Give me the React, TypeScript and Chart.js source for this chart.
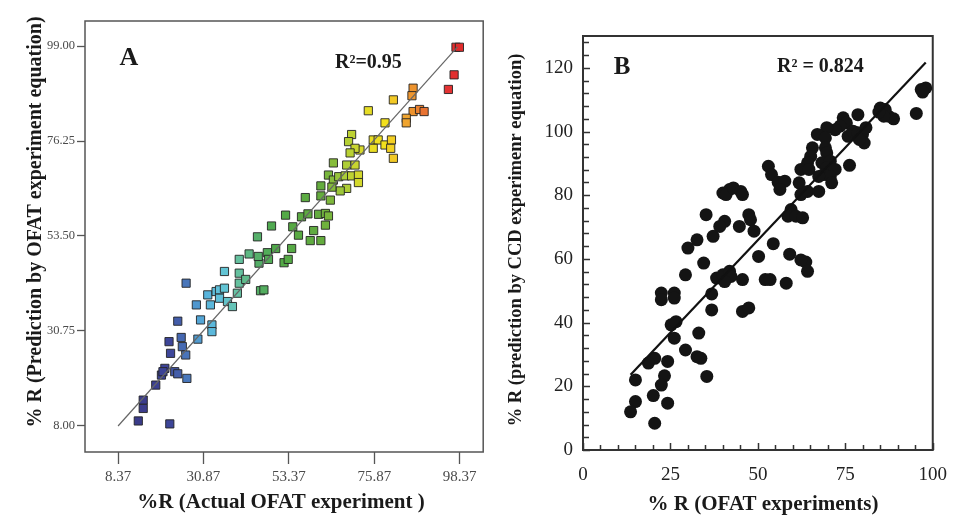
import React, { useEffect, useRef } from 'react';
import { Chart, registerables } from 'chart.js';
Chart.register(...registerables);

// ---------- Panel A data (actual vs predicted by OFAT equation) ----------
const A_ACTUAL = [97.4, 98.3, 96.9, 95.4, 86.1, 85.8, 80.9, 86.1, 87.8, 89.0, 84.3, 84.3, 74.3, 78.7, 75.6, 76.9, 78.7, 80.4, 80.2, 75.6, 80.9, 72.1,
  69.9, 69.1, 70.8, 69.5, 65.1, 68.6, 70.8, 63.8, 65.1, 66.5, 68.2, 69.9, 71.7, 71.7, 68.6, 66.9, 61.8, 64.7, 61.8, 64.3, 57.7, 52.5, 56.7, 58.4, 61.2, 63.0, 63.8, 48.8, 54.4, 55.9, 59.9, 63.0, 45.1, 54.1, 59.0, 61.8, 49.9, 47.7, 45.5, 42.9, 48.0, 52.1, 53.2, 40.3, 45.9, 46.8, 45.3,
  26.3, 36.4, 40.3, 40.3, 42.0, 39.8, 32.0, 34.2, 35.1, 36.4, 35.1, 37.2, 38.5, 29.0, 32.7, 24.1, 30.1, 33.1, 33.1, 29.4, 21.8, 22.2, 25.0, 25.3, 26.2, 20.7, 19.8, 20.2, 23.3, 24.1, 26.5, 18.3, 15.0, 15.0, 13.7, 22.0];
const A_PRED = [98.7, 98.7, 92.1, 88.6, 88.9, 87.1, 86.1, 83.3, 83.8, 83.3, 81.7, 80.6, 83.5, 80.6, 76.5, 76.5, 75.3, 76.5, 74.5, 74.5, 72.1, 74.1,
  77.8, 76.1, 74.5, 73.4, 71.0, 70.5, 70.5, 68.1, 66.9, 67.7, 67.9, 67.9, 68.1, 66.3, 64.9, 64.3, 65.5, 65.2, 63.1, 62.1, 62.7, 58.5, 58.1, 58.8, 58.7, 58.9, 58.3, 55.9, 55.7, 53.7, 54.8, 56.1, 53.3, 50.5, 52.4, 52.4, 50.5, 49.5, 47.0, 49.2, 47.9, 47.1, 47.9, 47.9, 40.4, 40.6, 48.6,
  42.2, 45.0, 44.6, 42.2, 43.1, 39.8, 39.4, 40.2, 40.6, 41.0, 38.6, 37.8, 36.6, 37.0, 37.0, 33.1, 33.4, 32.2, 30.6, 28.8, 28.2, 25.4, 29.2, 27.0, 25.0, 21.8, 20.2, 21.0, 21.0, 20.5, 19.4, 17.8, 14.2, 12.2, 9.2, 8.5];
const A_X_TICKS = [8.37, 30.87, 53.37, 75.87, 98.37];
const A_X_LABELS = ['8.37', '30.87', '53.37', '75.87', '98.37'];
const A_Y_TICKS = [8.0, 30.75, 53.5, 76.25, 99.0];
const A_Y_LABELS = ['8.00', '30.75', '53.50', '76.25', '99.00'];
const A_FIT_X = [8.37, 97.8];
const A_FIT_Y = [8.0, 98.8];
const A_X_RANGE = [-0.34, 104.57];
const A_Y_RANGE = [1.77, 104.99];

// ---------- Panel B data (OFAT experiments vs CCD prediction) ----------
const B_ACTUAL = [96.7, 98.0, 97.1, 95.3, 85.0, 86.4, 87.4, 88.8, 86.0, 84.6, 78.6, 74.4, 75.3, 73.5, 72.1, 69.7, 67.0, 69.3, 75.8, 77.2, 78.6, 79.9, 80.9, 80.4, 79.0,
  65.6, 69.3, 69.7, 76.2, 65.1, 64.2, 62.3, 64.6, 68.3, 70.7, 69.7, 72.1, 68.8, 70.7, 67.4, 71.1, 61.8, 62.3, 64.2, 67.4, 53.0, 53.9, 55.8, 57.7, 56.3,
  59.5, 58.6, 60.9, 62.8, 63.7, 59.1, 62.3, 54.4, 50.2, 41.9, 40.0, 40.9, 43.0, 45.1, 45.6, 35.2, 47.4, 47.9, 44.7, 48.9, 40.5, 39.1, 37.2, 32.6, 30.0, 34.5,
  29.3, 22.4, 26.1, 26.1, 22.4, 36.8, 38.2, 40.0, 41.9, 42.3, 40.5, 36.8, 45.6, 45.6, 47.4, 52.1, 53.5, 58.1, 64.2,
  25.2, 26.6, 26.1, 29.3, 32.6, 33.7, 33.1, 35.4, 24.2, 20.5, 18.7, 23.3, 22.4, 20.1, 24.2, 15.0, 15.0, 13.6, 20.5];
const B_PRED = [113.2, 113.7, 112.4, 105.7, 107.4, 106.9, 104.8, 104.0, 104.8, 106.1, 105.3, 104.3, 102.7, 101.7, 100.6, 101.2, 99.1, 98.0, 98.5, 100.1, 99.6, 99.1, 101.2, 96.4, 97.5,
  94.9, 94.9, 93.3, 89.4, 92.2, 90.2, 88.1, 88.1, 90.2, 90.7, 88.6, 88.1, 86.5, 85.9, 85.9, 83.9, 83.9, 80.2, 81.2, 81.2, 89.1, 86.5, 84.1, 84.4, 81.8,
  75.5, 73.4, 73.4, 72.9, 59.0, 61.5, 59.7, 64.8, 60.8, 81.8, 80.7, 80.2, 82.3, 81.2, 80.2, 73.9, 73.9, 72.3, 70.2, 68.7, 71.8, 70.2, 67.1, 66.0, 63.4, 58.7,
  55.0, 49.3, 49.3, 47.7, 47.2, 49.0, 54.0, 55.0, 56.1, 54.5, 52.9, 44.0, 53.5, 43.5, 44.6, 53.5, 53.5, 52.4, 56.1,
  39.3, 40.3, 35.1, 31.4, 29.3, 28.8, 36.7, 23.1, 27.8, 28.8, 27.3, 23.3, 20.4, 17.1, 14.7, 22.0, 15.2, 12.0, 8.4];
const B_X_TICKS = [0, 25, 50, 75, 100];
const B_Y_TICKS = [0, 20, 40, 60, 80, 100, 120];
const B_X_RANGE = [0, 100];
const B_Y_RANGE = [0, 130];
const B_X_MINOR_STEP = 5;
const B_Y_MINOR_STEP = 4;
const B_FIT_X = [13.6, 98];
const B_FIT_Y = [23.6, 121.7];

const SERIF = "'Liberation Serif', 'Times New Roman', serif";
const W = 961;
const H = 516;

// colour ramp used by panel A (colour follows the actual value)
const RAMP: [number, string][] = [
  [13, '#3a3a88'], [22, '#3d4598'], [26, '#4872b8'], [31, '#56b0dc'], [36, '#62c4da'],
  [40, '#66c2a2'], [45, '#56b06c'], [50, '#4fa848'], [62, '#64ac3e'], [68, '#a8cc38'],
  [73, '#e2dc28'], [79, '#f4e01c'], [83, '#f0b030'], [87, '#ec8a2e'], [90, '#e86834'],
  [95, '#e43434'], [99, '#e02a2a'],
];
function hex(c: string) {
  return [parseInt(c.slice(1, 3), 16), parseInt(c.slice(3, 5), 16), parseInt(c.slice(5, 7), 16)];
}
function rampColor(v: number) {
  if (v <= RAMP[0][0]) return RAMP[0][1];
  for (let i = 1; i < RAMP.length; i++) {
    if (v <= RAMP[i][0]) {
      const [v0, c0] = RAMP[i - 1];
      const [v1, c1] = RAMP[i];
      const t = (v - v0) / (v1 - v0);
      const a = hex(c0), b = hex(c1);
      const m = a.map((x, k) => Math.round(x + (b[k] - x) * t));
      return `rgb(${m[0]},${m[1]},${m[2]})`;
    }
  }
  return RAMP[RAMP.length - 1][1];
}

type TextItem = { text: string; x: number; y: number; font: string; align?: CanvasTextAlign; rotate?: boolean; color?: string };

function decorPlugin(opts: { frameColor: string; frameWidth: number; texts: TextItem[]; innerTicks?: boolean }) {
  return {
    id: 'decor',
    beforeDatasetsDraw(chart: any) {
      const { ctx, chartArea: a } = chart;
      ctx.save();
      ctx.strokeStyle = opts.frameColor;
      ctx.lineWidth = opts.frameWidth;
      ctx.strokeRect(a.left, a.top, a.right - a.left, a.bottom - a.top);
      if (opts.innerTicks) {
        const xs = chart.scales.x;
        const ys = chart.scales.y;
        ctx.lineWidth = 1.5;
        ctx.beginPath();
        for (let v = B_X_RANGE[0]; v <= B_X_RANGE[1] + 1e-9; v += B_X_MINOR_STEP) {
          const px = Math.round(xs.getPixelForValue(v)) + 0.5;
          const len = v % 25 === 0 ? 7 : 5;
          ctx.moveTo(px, a.bottom);
          ctx.lineTo(px, a.bottom - len);
        }
        for (let v = B_Y_RANGE[0]; v <= B_Y_RANGE[1] + 1e-9; v += B_Y_MINOR_STEP) {
          const py = Math.round(ys.getPixelForValue(v)) + 0.5;
          const len = v % 20 === 0 ? 7 : 6;
          ctx.moveTo(a.left, py);
          ctx.lineTo(a.left + len, py);
        }
        ctx.stroke();
      }
      ctx.restore();
    },
    afterDraw(chart: any) {
      const { ctx } = chart;
      ctx.save();
      for (const t of opts.texts) {
        ctx.font = t.font;
        ctx.fillStyle = t.color || '#1a1a1a';
        ctx.textAlign = t.align || 'center';
        ctx.textBaseline = 'middle';
        if (t.rotate) {
          ctx.save();
          ctx.translate(t.x, t.y);
          ctx.rotate(-Math.PI / 2);
          ctx.fillText(t.text, 0, 0);
          ctx.restore();
        } else {
          ctx.fillText(t.text, t.x, t.y);
        }
      }
      ctx.restore();
    },
  };
}

function PanelA() {
  const ref = useRef<HTMLCanvasElement>(null);
  useEffect(() => {
    const canvas = ref.current!;
    const cw = 490;
    const pts = A_ACTUAL.map((x, i) => ({ x, y: A_PRED[i] }));
    const chart = new Chart(canvas, {
      type: 'scatter',
      data: {
        datasets: [
          {
            type: 'line',
            data: A_FIT_X.map((x, i) => ({ x, y: A_FIT_Y[i] })),
            borderColor: '#666',
            borderWidth: 1.2,
            pointRadius: 0,
            fill: false,
          } as any,
          {
            data: pts,
            pointStyle: 'rect',
            pointRadius: 5.8,
            pointBorderWidth: 1,
            pointBorderColor: 'rgba(35,35,35,0.9)',
            pointBackgroundColor: A_ACTUAL.map((x) => rampColor(x)),
          } as any,
        ],
      },
      options: {
        responsive: false,
        animation: false,
        devicePixelRatio: 1,
        layout: { padding: { left: 0, right: cw - 486, top: 21, bottom: 0 } },
        plugins: { legend: { display: false }, tooltip: { enabled: false } },
        scales: {
          x: {
            type: 'linear',
            min: A_X_RANGE[0],
            max: A_X_RANGE[1],
            afterBuildTicks: (s: any) => { s.ticks = A_X_TICKS.map((v) => ({ value: v })); },
            afterFit: (s: any) => { s.height = H - 452; },
            ticks: {
              autoSkip: false,
              maxRotation: 0,
              padding: 4,
              color: '#4a4a4a',
              font: { family: SERIF, size: 15 },
              callback: (_v: any, i: number) => A_X_LABELS[i],
            },
            grid: { drawOnChartArea: false, drawTicks: true, tickLength: 12, tickColor: '#555', tickWidth: 1.3 },
            border: { display: false },
          },
          y: {
            type: 'linear',
            min: A_Y_RANGE[0],
            max: A_Y_RANGE[1],
            afterBuildTicks: (s: any) => { s.ticks = A_Y_TICKS.map((v) => ({ value: v })); },
            afterFit: (s: any) => { s.width = 85; },
            ticks: {
              autoSkip: false,
              padding: 2,
              color: '#4a4a4a',
              font: { family: SERIF, size: 12.5 },
              callback: (_v: any, i: number) => A_Y_LABELS[i],
            },
            grid: { drawOnChartArea: false, drawTicks: true, tickLength: 8, tickColor: '#555', tickWidth: 1.3 },
            border: { display: false },
          },
        },
      },
      plugins: [
        decorPlugin({
          frameColor: '#555',
          frameWidth: 1.5,
          texts: [
            { text: 'A', x: 129, y: 58, font: `bold 26px ${SERIF}` },
            { text: 'R²=0.95', x: 335, y: 63, font: `bold 20px ${SERIF}`, align: 'left' },
            { text: '%R (Actual OFAT experiment )', x: 281, y: 503, font: `bold 21px ${SERIF}` },
            { text: '% R (Prediction by OFAT experiment equation)', x: 36, y: 222, font: `bold 20px ${SERIF}`, rotate: true },
          ],
        }),
      ],
    } as any);
    return () => chart.destroy();
  }, []);
  return <canvas ref={ref} width={490} height={H} style={{ position: 'absolute', left: 0, top: 0, width: 490, height: H }} />;
}

function PanelB() {
  const ref = useRef<HTMLCanvasElement>(null);
  useEffect(() => {
    const canvas = ref.current!;
    const ox = 490;
    const cw = W - ox;
    const pts = B_ACTUAL.map((x, i) => ({ x, y: B_PRED[i] }));
    const chart = new Chart(canvas, {
      type: 'scatter',
      data: {
        datasets: [
          {
            type: 'line',
            data: B_FIT_X.map((x, i) => ({ x, y: B_FIT_Y[i] })),
            borderColor: '#111',
            borderWidth: 2.2,
            pointRadius: 0,
            fill: false,
          } as any,
          {
            data: pts,
            pointStyle: 'circle',
            pointRadius: 6.5,
            pointBorderWidth: 0,
            pointBackgroundColor: '#141414',
          } as any,
        ],
      },
      options: {
        responsive: false,
        animation: false,
        devicePixelRatio: 1,
        layout: { padding: { left: 0, right: cw - (942 - ox), top: 36, bottom: 0 } },
        plugins: { legend: { display: false }, tooltip: { enabled: false } },
        scales: {
          x: {
            type: 'linear',
            min: B_X_RANGE[0],
            max: B_X_RANGE[1],
            afterBuildTicks: (s: any) => { s.ticks = B_X_TICKS.map((v) => ({ value: v })); },
            afterFit: (s: any) => { s.height = H - 450; },
            ticks: {
              autoSkip: false,
              maxRotation: 0,
              padding: 14,
              color: '#222',
              font: { family: SERIF, size: 19 },
            },
            grid: { display: false, drawTicks: false },
            border: { display: false },
          },
          y: {
            type: 'linear',
            min: B_Y_RANGE[0],
            max: B_Y_RANGE[1],
            afterBuildTicks: (s: any) => { s.ticks = B_Y_TICKS.map((v) => ({ value: v })); },
            afterFit: (s: any) => { s.width = 583 - ox; },
            ticks: {
              autoSkip: false,
              padding: 10,
              color: '#222',
              font: { family: SERIF, size: 19 },
            },
            grid: { display: false, drawTicks: false },
            border: { display: false },
          },
        },
      },
      plugins: [
        decorPlugin({
          frameColor: '#333',
          frameWidth: 2,
          innerTicks: true,
          texts: [
            { text: 'B', x: 622 - ox, y: 68, font: `bold 25px ${SERIF}` },
            { text: 'R² = 0.824', x: 777 - ox, y: 67, font: `bold 20px ${SERIF}`, align: 'left' },
            { text: '% R (OFAT experiments)', x: 763 - ox, y: 505, font: `bold 21px ${SERIF}` },
            { text: '% R (prediction by CCD experimenr equation)', x: 516 - ox, y: 240, font: `bold 18.5px ${SERIF}`, rotate: true },
          ],
        }),
      ],
    } as any);
    return () => chart.destroy();
  }, []);
  return <canvas ref={ref} width={W - 490} height={H} style={{ position: 'absolute', left: 490, top: 0, width: W - 490, height: H }} />;
}

export default function App() {
  return (
    <div style={{ position: 'fixed', left: 0, top: 0, width: W, height: H, background: '#fff', overflow: 'hidden' }}>
      <PanelA />
      <PanelB />
    </div>
  );
}
